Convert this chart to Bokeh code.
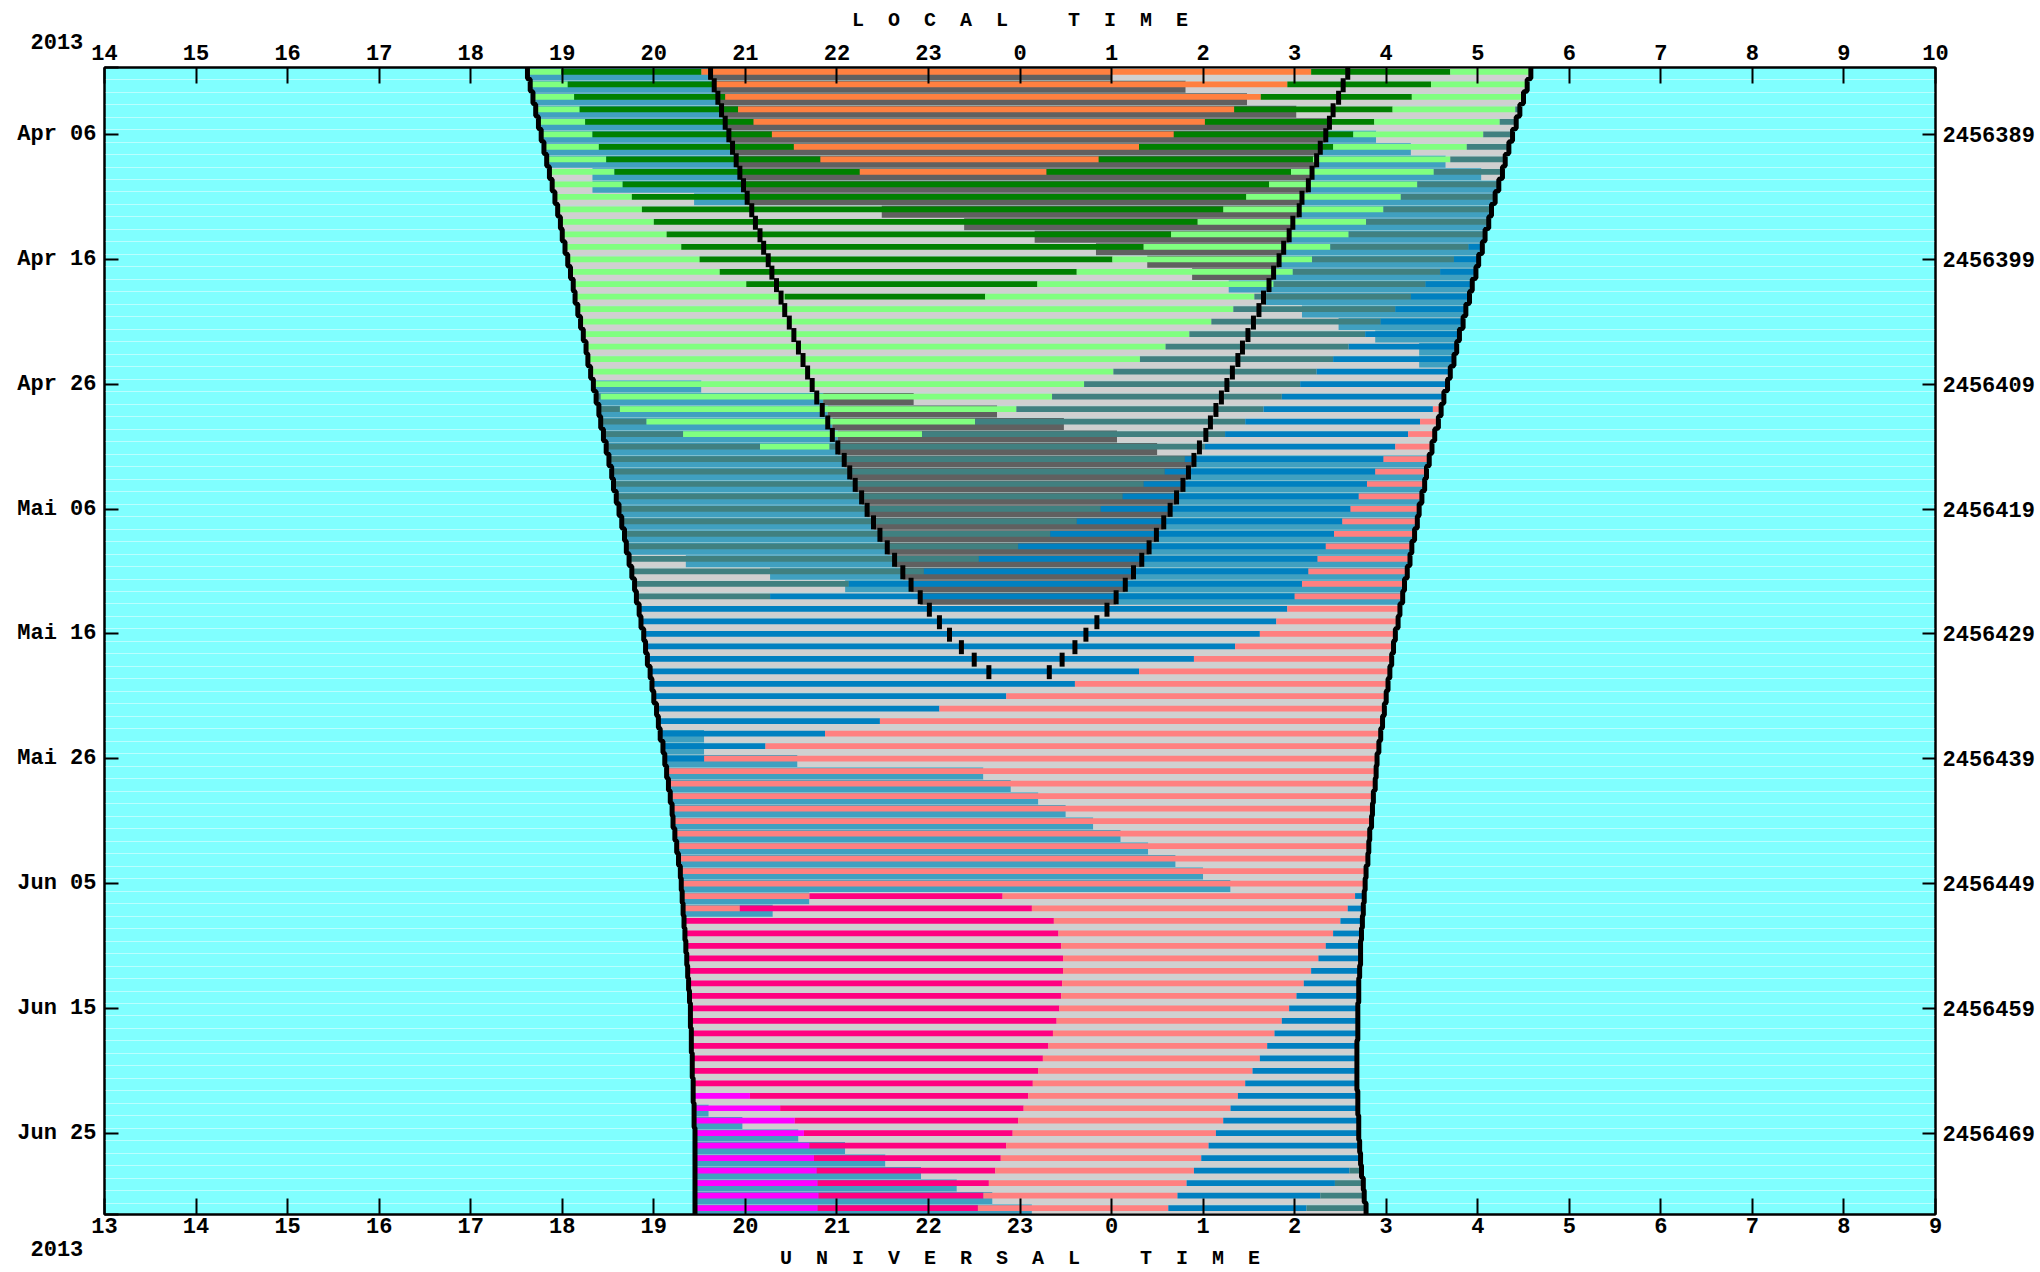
from bokeh.plotting import figure
from bokeh.models import ColumnDataSource, FixedTicker, LinearAxis, Range1d, Grid
from bokeh.embed import file_html
from bokeh.resources import INLINE

# Night schedule 2013-04-01 .. 2013-07-01, one row per night, times in UT hours (>24 = after midnight)

DUSK = [17.62, 17.65, 17.68, 17.71, 17.74, 17.77, 17.80, 17.83, 17.86, 17.89, 17.92,
        17.95, 17.98, 18.00, 18.03, 18.06, 18.09, 18.12, 18.14, 18.17, 18.20,
        18.23, 18.26, 18.28, 18.31, 18.34, 18.37, 18.40, 18.42, 18.45, 18.48,
        18.51, 18.54, 18.56, 18.59, 18.62, 18.65, 18.68, 18.70, 18.73, 18.76, 18.79, 18.81, 18.84,
        18.86, 18.89, 18.91, 18.93, 18.96, 18.98, 19.00, 19.03, 19.05, 19.07, 19.10, 19.12, 19.14,
        19.16, 19.18, 19.20, 19.21, 19.23, 19.25, 19.27, 19.29, 19.30,
        19.31, 19.32, 19.33, 19.34, 19.35, 19.36, 19.37, 19.38, 19.39, 19.40,
        19.40, 19.41, 19.41, 19.42, 19.42, 19.43, 19.43, 19.44, 19.44, 19.45,
        19.45, 19.45, 19.45, 19.45, 19.45, 19.45]

DAWN = [28.58, 28.54, 28.50, 28.46, 28.42, 28.38, 28.34, 28.30, 28.27, 28.23, 28.19,
        28.15, 28.12, 28.08, 28.05, 28.01, 27.98, 27.94, 27.91, 27.87, 27.84,
        27.80, 27.77, 27.74, 27.70, 27.67, 27.63, 27.60, 27.57, 27.53, 27.50,
        27.47, 27.44, 27.42, 27.39, 27.36, 27.34, 27.31, 27.28, 27.26, 27.23, 27.20, 27.18, 27.15, 27.13, 27.10,
        27.08, 27.06, 27.04, 27.02, 27.00, 26.98, 26.96, 26.94, 26.92, 26.90,
        26.89, 26.88, 26.86, 26.85, 26.84, 26.82, 26.81, 26.80, 26.78, 26.77,
        26.76, 26.75, 26.74, 26.73, 26.72, 26.72, 26.71, 26.70, 26.70, 26.69,
        26.69, 26.69, 26.68, 26.68, 26.68, 26.68, 26.69, 26.69, 26.70, 26.70,
        26.71, 26.72, 26.73, 26.75, 26.76, 26.78]

# end / start of astronomical night (no dark night after mid May)
TWI_EVE = [19.62, 19.66, 19.70, 19.74, 19.78, 19.82, 19.86, 19.90, 19.94, 19.98, 20.02,
           20.07, 20.11, 20.16, 20.20, 20.25, 20.29, 20.34, 20.39, 20.43, 20.48,
           20.53, 20.58, 20.63, 20.68, 20.73, 20.78, 20.84, 20.90, 20.95, 21.01,
           21.08, 21.14, 21.20, 21.27, 21.33, 21.40, 21.47, 21.55, 21.63, 21.72,
           21.81, 21.91, 22.01, 22.12, 22.23, 22.36, 22.50, 22.66]
TWI_MORN = [26.58, 26.53, 26.48, 26.42, 26.38, 26.34, 26.28, 26.24, 26.19, 26.15, 26.08,
            26.05, 25.98, 25.94, 25.88, 25.83, 25.77, 25.72, 25.66, 25.61, 25.55,
            25.49, 25.43, 25.38, 25.32, 25.26, 25.20, 25.14, 25.08, 25.03, 24.96,
            24.90, 24.84, 24.78, 24.71, 24.64, 24.57, 24.49, 24.41, 24.33, 24.24,
            24.15, 24.05, 23.95, 23.84, 23.72, 23.60, 23.46, 23.32]

PALETTE = {
    "LG": "#80ff80", "DG": "#008000", "OR": "#ff8040", "TL": "#408080",
    "SB": "#40a0c0", "BL": "#0080c0", "SA": "#ff8080", "PR": "#ff0080",
    "MG": "#ff00ff", "GY": "#606060", "LY": "#d0d0d0",
}

# targets per night: colour, switch time, colour, ... (night runs DUSK -> DAWN)
TARGETS = [
    "LG 17.99 DG 19.52 OR 26.18 DG 27.70 LG",
    "LG 18.06 DG 19.64 OR 25.92 DG 27.49 LG",
    "LG 18.13 DG 19.78 OR 25.63 DG 27.28 LG",
    "LG 18.19 DG 19.92 OR 25.34 DG 27.07 LG 28.41 TL",
    "LG 18.25 DG 20.09 OR 25.02 DG 26.87 LG 28.24 TL",
    "LG 18.33 DG 20.29 OR 24.68 DG 26.64 LG 28.06 TL",
    "LG 18.40 DG 20.53 OR 24.30 DG 26.42 LG 27.88 TL",
    "LG 18.48 DG 20.82 OR 23.86 DG 26.20 LG 27.70 TL",
    "LG 18.57 DG 21.25 OR 23.29 DG 25.96 LG 27.52 TL",
    "LG 18.66 DG 25.72 LG 27.34 TL",
    "LG 18.76 DG 25.47 LG 27.16 TL",
    "LG 18.87 DG 25.22 LG 26.97 TL",
    "LG 19.00 DG 24.94 LG 26.78 TL",
    "LG 19.14 DG 24.65 LG 26.59 TL",
    "LG 19.30 DG 24.35 LG 26.39 TL 27.90 BL",
    "LG 19.50 DG 24.01 LG 26.19 TL 27.74 BL",
    "LG 19.72 DG 23.62 LG 25.98 TL 27.59 BL",
    "LG 20.01 DG 23.19 LG 25.77 TL 27.43 BL",
    "LG 20.43 DG 22.62 LG 25.56 TL 27.27 BL",
    "LG 25.33 TL 27.10 BL",
    "LG 25.09 TL 26.94 BL",
    "LG 24.85 TL 26.77 BL",
    "LG 24.59 TL 26.59 BL",
    "LG 24.31 TL 26.42 BL",
    "LG 24.02 TL 26.24 BL",
    "LG 23.70 TL 26.06 BL",
    "TL 18.42 LG 23.35 TL 25.86 BL",
    "TL 18.63 LG 22.96 TL 25.66 BL 27.51 SA",
    "TL 18.92 LG 22.51 TL 25.46 BL 27.37 SA",
    "TL 19.32 LG 21.93 TL 25.24 BL 27.24 SA",
    "TL 20.16 LG 20.92 TL 25.02 BL 27.10 SA",
    "TL 24.80 BL 26.97 SA",
    "TL 24.58 BL 26.88 SA",
    "TL 24.35 BL 26.79 SA",
    "TL 24.12 BL 26.70 SA",
    "TL 23.88 BL 26.61 SA",
    "TL 23.62 BL 26.52 SA",
    "TL 23.33 BL 26.43 SA",
    "TL 22.98 BL 26.34 SA",
    "TL 22.55 BL 26.25 SA",
    "TL 21.95 BL 26.15 SA",
    "TL 21.13 BL 26.08 SA",
    "TL 20.27 BL 26.00 SA",
    "BL 25.92 SA",
    "BL 25.80 SA",
    "BL 25.62 SA",
    "BL 25.35 SA",
    "BL 24.90 SA",
    "BL 24.30 SA",
    "BL 23.60 SA",
    "BL 22.85 SA",
    "BL 22.12 SA",
    "BL 21.47 SA",
    "BL 20.87 SA",
    "BL 20.22 SA",
    "BL 19.55 SA",
    "SA", "SA", "SA", "SA", "SA", "SA", "SA", "SA", "SA", "SA",
    "SA 20.70 PR 22.81 SA 26.66 BL",
    "SA 19.94 PR 23.13 SA 26.58 BL",
    "PR 23.37 SA 26.50 BL",
    "PR 23.42 SA 26.42 BL",
    "PR 23.45 SA 26.34 BL",
    "PR 23.47 SA 26.26 BL",
    "PR 23.47 SA 26.18 BL",
    "PR 23.46 SA 26.10 BL",
    "PR 23.45 SA 26.02 BL",
    "PR 23.43 SA 25.94 BL",
    "PR 23.40 SA 25.86 BL",
    "PR 23.36 SA 25.78 BL",
    "PR 23.31 SA 25.70 BL",
    "PR 23.25 SA 25.62 BL",
    "PR 23.20 SA 25.54 BL",
    "PR 23.14 SA 25.46 BL",
    "MG 20.05 PR 23.09 SA 25.38 BL",
    "MG 20.38 PR 23.04 SA 25.30 BL",
    "MG 20.54 PR 22.98 SA 25.22 BL",
    "MG 20.64 PR 22.92 SA 25.14 BL",
    "MG 20.70 PR 22.85 SA 25.06 BL",
    "MG 20.75 PR 22.79 SA 24.98 BL",
    "MG 20.78 PR 22.73 SA 24.90 BL 26.60 TL",
    "MG 20.79 PR 22.66 SA 24.82 BL 26.44 TL",
    "MG 20.80 PR 22.60 SA 24.72 BL 26.28 TL",
    "MG 20.79 PR 22.54 SA 24.62 BL 26.13 TL",
]

# sky condition strip under each night's target bar
SKY = [
    "SB 19.60 GY 24.00 LY",
    "SB 19.66 GY 24.81 LY",
    "SB 19.70 GY 25.48 LY",
    "SB 19.74 GY 26.02 LY",
    "SB 19.78 GY 26.38 LY",
    "SB 19.82 GY 26.34 SB 26.89 LY",
    "SB 19.86 GY 26.28 SB 27.27 LY",
    "SB 19.90 GY 26.24 SB 27.65 LY",
    "LY 18.33 SB 19.94 GY 26.19 SB 28.04 LY",
    "LY 18.33 SB 19.98 GY 26.15 SB",
    "LY 19.44 SB 20.02 GY 26.08 SB",
    "LY 21.49 GY 26.05 SB",
    "LY 22.39 GY 25.98 SB",
    "LY 23.16 GY 25.94 SB",
    "LY 23.83 GY 25.88 SB",
    "LY 24.39 GY 25.83 SB",
    "LY 24.88 GY 25.77 SB",
    "LY 25.28 SB",
    "LY 25.68 SB",
    "LY 26.08 SB",
    "LY 26.48 SB",
    "LY 26.88 SB",
    "LY 27.36 SB",
    "LY 27.36 SB",
    "LY",
    "SB 19.52 LY",
    "SB 20.85 GY 21.84 LY",
    "SB 20.90 GY 22.75 LY",
    "SB 20.95 GY 23.48 LY",
    "SB 21.01 GY 24.06 LY",
    "SB 21.01 GY 24.50 LY",
    "SB 21.08 GY 24.90 SB",
    "SB 21.14 GY 24.84 SB",
    "SB 21.20 GY 24.78 SB",
    "SB 21.27 GY 24.71 SB",
    "SB 21.33 GY 24.64 SB",
    "SB 21.40 GY 24.57 SB",
    "SB 21.47 GY 24.49 SB",
    "SB 21.55 GY 24.41 SB",
    "LY 19.35 SB 21.63 GY 24.33 SB",
    "LY 20.27 SB 21.72 GY 24.24 SB",
    "LY 21.09 SB 21.81 GY 24.15 SB",
    "LY 21.91 GY 24.05 SB",
    "LY", "LY", "LY", "LY", "LY", "LY", "LY", "LY", "LY", "LY",
    "SB 19.55 LY",
    "SB 19.55 LY",
    "SB 20.57 LY",
    "SB 22.60 LY", "SB 22.90 LY", "SB 23.20 LY", "SB 23.50 LY", "SB 23.80 LY",
    "SB 24.10 LY", "SB 24.40 LY", "SB 24.70 LY", "SB 25.00 LY", "SB 25.30 LY",
    "SB 20.70 LY",
    "SB 20.30 LY",
    "LY", "LY", "LY", "LY", "LY", "LY", "LY", "LY", "LY", "LY", "LY", "LY", "LY", "LY", "LY",
    "SB 19.60 LY",
    "SB 19.97 LY",
    "SB 20.58 LY",
    "SB 21.09 LY",
    "SB 21.53 LY",
    "SB 21.92 LY",
    "SB 22.31 LY",
    "SB 22.70 LY",
    "SB 23.13 LY",
]

DATE_TICKS = [5, 15, 25, 35, 45, 55, 65, 75, 85]
DATE_LABELS = ["Apr 06", "Apr 16", "Apr 26", "Mai 06", "Mai 16", "Mai 26", "Jun 05", "Jun 15", "Jun 25"]
JD_LABELS = ["2456389", "2456399", "2456409", "2456419", "2456429", "2456439", "2456449", "2456459", "2456469"]
YEAR = "2013"

UT_TICKS = [13, 14, 15, 16, 17, 18, 19, 20, 21, 22, 23, 24, 25, 26, 27, 28, 29, 30, 31, 32, 33]
UT_LABELS = ["13", "14", "15", "16", "17", "18", "19", "20", "21", "22", "23",
             "0", "1", "2", "3", "4", "5", "6", "7", "8", "9"]
LT_LABELS = ["14", "15", "16", "17", "18", "19", "20", "21", "22", "23",
             "0", "1", "2", "3", "4", "5", "6", "7", "8", "9", "10"]

Y_TOP, Y_BOTTOM = -0.37, 91.5


def segments(table, k):
    tok = table[k].split()
    cols = tok[0::2]
    cuts = [DUSK[k]] + [float(t) for t in tok[1::2]] + [DAWN[k]]
    return [(cuts[i], cuts[i + 1], PALETTE[c]) for i, c in enumerate(cols)]


def build(table, y_top, y_bot):
    d = dict(left=[], right=[], top=[], bottom=[], color=[])
    for k in range(len(table)):
        for a, b, c in segments(table, k):
            d["left"].append(a)
            d["right"].append(b)
            d["top"].append(k + y_top)
            d["bottom"].append(k + y_bot)
            d["color"].append(c)
    return ColumnDataSource(d)


FONT = "Liberation Mono"
NB = "\u00a0"

p = figure(width=2040, height=1272, output_backend="svg", toolbar_location=None,
           x_range=Range1d(13, 33), y_range=Range1d(Y_BOTTOM, Y_TOP),
           x_axis_location=None, y_axis_location=None)
p.grid.visible = False
p.min_border_left = 104
p.min_border_right = 105
p.min_border_top = 67
p.min_border_bottom = 57
p.background_fill_color = "#80ffff"
p.border_fill_color = "white"
p.outline_line_color = "black"
p.outline_line_width = 2

rows_grid = Grid(dimension=1, ticker=FixedTicker(ticks=[k + 0.6 for k in range(len(DUSK))]),
                 grid_line_color="white", grid_line_alpha=0.45, grid_line_width=1)
p.add_layout(rows_grid)

# night frame, sky strip, target bar
night = ColumnDataSource(dict(left=DUSK, right=DAWN,
                              top=[k - 0.31 for k in range(len(DUSK))],
                              bottom=[k + 0.69 for k in range(len(DUSK))]))
p.quad(left="left", right="right", top="top", bottom="bottom", source=night,
       fill_color="#c8d4d4", line_color=None)
p.quad(left="left", right="right", top="top", bottom="bottom", fill_color="color",
       line_color=None, source=build(SKY, -0.30, 0.66))
p.quad(left="left", right="right", top="top", bottom="bottom", fill_color="color",
       line_color=None, source=build(TARGETS, -0.24, 0.22))

# sunset / sunrise boundaries drawn as stairs
for edge in (DUSK, DAWN):
    xs, ys = [], []
    for k, v in enumerate(edge):
        xs += [v, v]
        ys += [k - 0.40, k + 0.50]
    p.line(xs, ys, line_color="black", line_width=5)

# astronomical twilight, one dash per night
for edge in (TWI_EVE, TWI_MORN):
    n = len(edge)
    p.segment(x0=edge, y0=[k - 0.50 for k in range(n)], x1=edge, y1=[k + 0.62 for k in range(n)],
              line_color="black", line_width=5)


def style(ax, tick_in, standoff):
    ax.axis_line_color = "black"
    ax.axis_line_width = 2
    ax.major_tick_line_color = "black"
    ax.major_tick_line_width = 2
    ax.major_tick_in = tick_in
    ax.major_tick_out = 0
    ax.minor_tick_in = 0
    ax.minor_tick_out = 0
    ax.major_label_standoff = standoff
    ax.major_label_text_font = FONT
    ax.major_label_text_font_style = "bold"
    ax.major_label_text_font_size = "22px"
    ax.major_label_text_color = "black"
    ax.axis_label_text_font = FONT
    ax.axis_label_text_font_style = "bold"
    ax.axis_label_text_font_size = "20px"
    ax.axis_label_text_color = "black"


def spaced(a, b):
    return (NB * 2).join(a) + NB * 5 + (NB * 2).join(b)


# the year sits at both ends of the date axis, above and below the frame
left_ticks = [Y_TOP + 0.005] + DATE_TICKS + [Y_BOTTOM - 0.005]
left_labels = [YEAR + NB + "\n" + NB + "\n" + NB] + DATE_LABELS + \
              [NB + "\n" + NB + "\n" + NB + "\n" + YEAR + NB]
left = LinearAxis(ticker=FixedTicker(ticks=left_ticks),
                  major_label_overrides=dict(zip(left_ticks, left_labels)))
right = LinearAxis(ticker=FixedTicker(ticks=DATE_TICKS),
                   major_label_overrides=dict(zip(DATE_TICKS, JD_LABELS)))
below = LinearAxis(ticker=FixedTicker(ticks=UT_TICKS),
                   major_label_overrides=dict(zip(UT_TICKS, UT_LABELS)),
                   axis_label=spaced("UNIVERSAL", "TIME"))
above = LinearAxis(ticker=FixedTicker(ticks=UT_TICKS),
                   major_label_overrides=dict(zip(UT_TICKS, LT_LABELS)),
                   axis_label=spaced("LOCAL", "TIME"))
style(left, 14, 8)
style(right, 13, 7)
style(below, 16, 3)
style(above, 16, 8)
left.major_label_text_line_height = 0.95
below.axis_label_standoff = 11
above.axis_label_standoff = 10
p.add_layout(left, "left")
p.add_layout(right, "right")
p.add_layout(below, "below")
p.add_layout(above, "above")

open("out.html", "w").write(file_html(p, INLINE))
